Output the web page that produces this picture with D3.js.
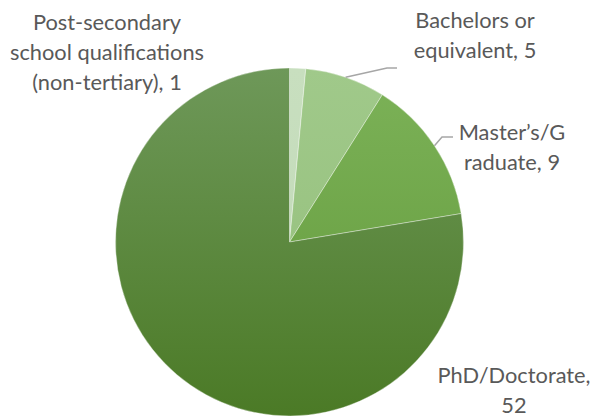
<!DOCTYPE html>
<html>
<head>
<meta charset="utf-8">
<script src="https://cdn.jsdelivr.net/npm/d3@7"></script>
<style>
  body { margin: 0; background: #fff; }
  text { font-family: Lato, "Open Sans", sans-serif; fill: #595959; }
</style>
</head>
<body>
<div class="chart"></div>
<script>
// data
const categories = ["Post-secondary school qualifications (non-tertiary)", "Bachelors or equivalent", "Master\u2019s/Graduate", "PhD/Doctorate"];
const values = [1, 5, 9, 52];
// label lines as wrapped in the original
const labelLines = [
    ["Post-secondary", "school qualifications", "(non-tertiary), 1"],
    ["Bachelors or", "equivalent, 5"],
    ["Master\u2019s/G", "raduate, 9"],
    ["PhD/Doctorate,", "52"]
];
const colorsTop = ["#c8dfbf", "#a0c98a", "#7cb258", "#6e9859"];
const colorsBottom = ["#c0d8b6", "#93be7a", "#62993a", "#4b7a26"];

const width = 595, height = 420;
const cx = 289.5, cy = 242, radius = 174;

const svg = d3.select(".chart").append("svg")
    .attr("width", width)
    .attr("height", height);

// vertical shading like the original
const defs = svg.append("defs");
values.forEach(function (v, i) {
    let g = defs.append("linearGradient")
        .attr("id", "grad" + i)
        .attr("gradientUnits", "userSpaceOnUse")
        .attr("x1", 0).attr("x2", 0)
        .attr("y1", -radius).attr("y2", radius);
    g.append("stop").attr("offset", "0%").attr("stop-color", colorsTop[i]);
    g.append("stop").attr("offset", "100%").attr("stop-color", colorsBottom[i]);
});

const pie = d3.pie().sort(null).value(d => d)(values);
const arc = d3.arc().innerRadius(0).outerRadius(radius);

const pieGroup = svg.append("g")
    .attr("transform", "translate(" + cx + "," + cy + ")");

pieGroup.selectAll("path")
    .data(pie)
    .enter()
    .append("path")
    .attr("d", arc)
    .attr("fill", (d, i) => "url(#grad" + i + ")")
    .attr("stroke", "rgba(255,255,255,0.45)")
    .attr("stroke-width", 0.8);

// label anchor positions (center of text block)
const labelPos = [
    {x: 107, y: 22},
    {x: 475, y: 20},
    {x: 512, y: 132},
    {x: 514, y: 375}
];
const lineHeight = 30;

const labels = svg.append("g");
labelLines.forEach(function (lines, i) {
    let t = labels.append("text")
        .attr("text-anchor", "middle")
        .attr("font-size", 21.8);
    lines.forEach(function (s, j) {
        t.append("tspan")
            .attr("x", labelPos[i].x)
            .attr("y", labelPos[i].y + j * lineHeight)
            .attr("dy", "0.35em")
            .text(s);
    });
});

// leader lines for the two labels that sit off the slice
const leader = d3.line();
function edgePoint(d) {
    let a = (d.startAngle + d.endAngle) / 2;
    return [cx + radius * Math.sin(a), cy - radius * Math.cos(a)];
}
const leaders = [
    {slice: 1, bend: [387, 68], end: [397, 68]},
    {slice: 2, bend: [442, 137], end: [453, 137]}
];
leaders.forEach(function (l) {
    svg.append("path")
        .attr("d", leader([edgePoint(pie[l.slice]), l.bend, l.end]))
        .attr("fill", "none")
        .attr("stroke", "#a6a6a6")
        .attr("stroke-width", 1.5);
});
</script>
</body>
</html>
